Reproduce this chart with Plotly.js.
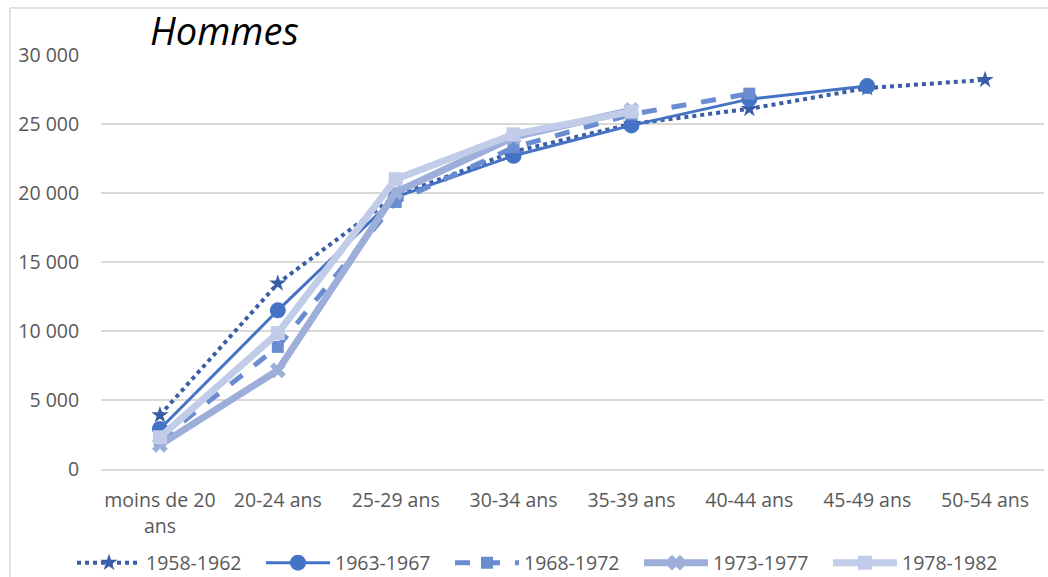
<!DOCTYPE html>
<html>
<head>
<meta charset="utf-8">
<script src="https://cdn.plot.ly/plotly-3.0.1.min.js"></script>
<style>html,body{margin:0;padding:0;background:#fff;}#chart{width:1048px;height:577px;}</style>
</head>
<body>
<div id="chart"></div>
<script>
const categories = ['moins de 20<br>ans','20-24 ans','25-29 ans','30-34 ans','35-39 ans','40-44 ans','45-49 ans','50-54 ans'];
const s1958 = [3900, 13450, 19800, 23000, 25000, 26100, 27600, 28200];
const s1963 = [2900, 11500, 19700, 22700, 24900, 26800, 27750, null];
const s1968 = [2100, 8850, 19350, 23300, 25700, 27200, null, null];
const s1973 = [1750, 7150, 20050, 24050, 26000, null, null, null];
const s1978 = [2300, 9850, 21000, 24250, 25900, null, null, null];
const seriesNames = ['1958-1962','1963-1967','1968-1972','1973-1977','1978-1982'];
const yTickVals = [0, 5000, 10000, 15000, 20000, 25000, 30000];
const yTickText = ['0','5 000','10 000','15 000','20 000','25 000','30 000'];

const FONT = 'Open Sans, DejaVu Sans, sans-serif';
const traces = [
  {y: s1958, color:'#3A5DA8', dash:'dot', width:4, symbol:'star', size:13},
  {y: s1963, color:'#4472C4', dash:'solid', width:3, symbol:'circle', size:16},
  {y: s1968, color:'#6A8CD0', dash:'dash', width:5, symbol:'square', size:12},
  {y: s1973, color:'#9DAEDB', dash:'solid', width:7, symbol:'x', size:14},
  {y: s1978, color:'#C1CCE8', dash:'solid', width:7, symbol:'square', size:14}
].map((t, i) => ({
  type:'scatter', mode:'lines+markers', name: seriesNames[i],
  x: categories, y: t.y,
  line:{color:t.color, width:t.width, dash:t.dash},
  marker:{color:t.color, symbol:t.symbol, size:t.size, line:{width:0}},
  connectgaps:false
}));

const layout = {
  width:1048, height:577,
  paper_bgcolor:'#fff', plot_bgcolor:'#fff',
  margin:{l:101, r:4, t:55, b:108, autoexpand:false},
  font:{family:FONT, size:19.5, color:'#595959'},
  title:{text:'Hommes', font:{family:FONT, size:38, color:'#000', style:'italic'},
         x:150/1048, xanchor:'left', xref:'container', y:1-32/577, yanchor:'middle', yref:'container'},
  showlegend:true,
  legend:{orientation:'h', x:(72-101)/943, xanchor:'left', y:(469-563)/414, yanchor:'middle',
          font:{family:FONT, size:19.5, color:'#595959'},
          itemwidth:64, entrywidth:110, entrywidthmode:'pixels', traceorder:'normal'},
  xaxis:{type:'category', range:[-0.5, 7.5], showgrid:false, zeroline:false, automargin:false,
         showline:true, linecolor:'#d9d9d9', linewidth:1.5,
         ticks:'outside', ticklen:13, tickcolor:'rgba(0,0,0,0)', tickfont:{family:FONT, size:19.5, color:'#595959'}},
  yaxis:{range:[0, 30000], tickvals:yTickVals, ticktext:yTickText, automargin:false,
         showgrid:true, gridcolor:'#d9d9d9', gridwidth:1.5, zeroline:false, showline:false,
         ticks:'outside', ticklen:17, tickcolor:'rgba(0,0,0,0)', tickfont:{family:FONT, size:19.5, color:'#595959'}},
  shapes:[
    {type:'line', xref:'paper', yref:'paper', x0:(10-101)/943, x1:(10-101)/943, y0:(469-8)/414, y1:(469-580)/414, line:{color:'#d9d9d9', width:1.5}},
    {type:'line', xref:'paper', yref:'paper', x0:(10-101)/943, x1:(1050-101)/943, y0:(469-8)/414, y1:(469-8)/414, line:{color:'#d9d9d9', width:1.5}}
  ]
};
Plotly.newPlot('chart', traces, layout, {displayModeBar:false, responsive:false});
</script>
</body>
</html>
